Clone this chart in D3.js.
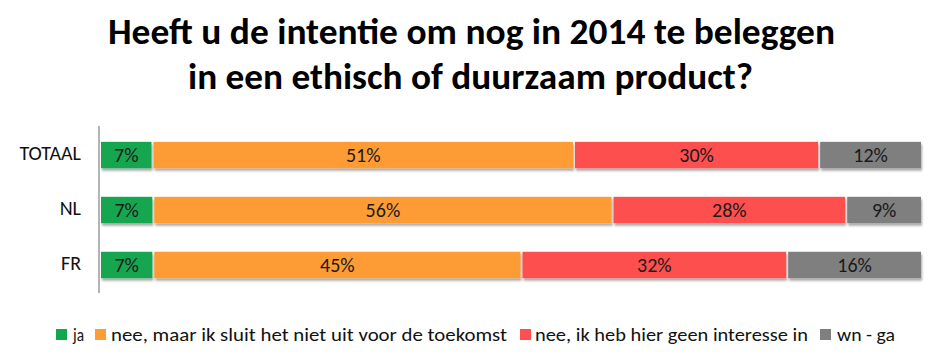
<!DOCTYPE html>
<html><head><meta charset="utf-8">
<script src="https://cdn.jsdelivr.net/npm/d3@7"></script>
<style>
body{margin:0;background:#fff;}
svg{display:block;}
text{font-family:Carlito,"Liberation Sans Narrow","DejaVu Sans Condensed",sans-serif;}
</style></head>
<body><svg id="c" width="945" height="364"></svg>
<script>
const titleLines = ["Heeft u de intentie om nog in 2014 te beleggen","in een ethisch of duurzaam product?"];
const categories = ["TOTAAL","NL","FR"];
const seriesNames = ["ja","nee, maar ik sluit het niet uit voor de toekomst","nee, ik heb hier geen interesse in","wn - ga"];
const seriesColors = ["#12a64f","#fd9b35","#fe5050","#7f7f7f"];
const ja = [6.4, 6.5, 6.5];
const neeMaar = [51.4, 56.0, 44.9];
const neeGeen = [29.9, 28.5, 32.4];
const wnGa = [12.3, 9.0, 16.2];
const labels = [["7%","51%","30%","12%"],["7%","56%","28%","9%"],["7%","45%","32%","16%"]];

const FONT = 'Carlito,"Liberation Sans Narrow","DejaVu Sans Condensed",sans-serif';
const svg = d3.select("#c");
const defs = svg.append("defs");
const f = defs.append("filter").attr("id","sh").attr("x","-5%").attr("y","-20%").attr("width","110%").attr("height","160%");
f.append("feDropShadow").attr("dx",1).attr("dy",2.5).attr("stdDeviation",1.2).attr("flood-color","#000").attr("flood-opacity",0.35);

// title
const title = svg.append("g");
const titleBox = [{x0:108,x1:835,y:44},{x0:188,x1:753,y:89}];
titleLines.forEach((t,i)=>{
  const b = titleBox[i];
  title.append("text").attr("x",b.x0).attr("y",b.y)
    .attr("font-weight","bold").attr("font-size",36).attr("fill","#000")
    .attr("textLength", b.x1-b.x0).attr("lengthAdjust","spacingAndGlyphs").text(t);
});

const x = d3.scaleLinear().domain([0,100]).range([101,921]);
const y = d3.scaleBand().domain(categories).range([127,293]).paddingInner(0.52).paddingOuter(0.27);

const seriesData = [ja, neeMaar, neeGeen, wnGa];
const rows = categories.map((c,i)=>{ const o={cat:c}; seriesNames.forEach((s,j)=>o[s]=seriesData[j][i]); return o;});
const stack = d3.stack().keys(seriesNames)(rows);

const bars = svg.append("g");
stack.forEach((layer,j)=>{
  layer.forEach((d,i)=>{
    const x0 = x(d[0]), x1 = x(d[1]);
    const last = j===seriesNames.length-1;
    bars.append("rect").attr("x",x0).attr("y",y(categories[i]))
      .attr("width", Math.max(0, x1-x0-(last?0:2))).attr("height",y.bandwidth())
      .attr("fill",seriesColors[j]).attr("filter","url(#sh)");
    bars.append("text").attr("x",(x0+x1-(last?0:2))/2).attr("y",y(categories[i])+y.bandwidth()/2+7)
      .attr("text-anchor","middle").attr("font-size",20).attr("fill","#1a1a1a").text(labels[i][j]);
  });
});

// axis
const ax = svg.append("g").attr("transform","translate(99,0)").call(d3.axisLeft(y).tickSize(0).tickPadding(18));
ax.select(".domain").attr("stroke","#8c8c8c").attr("stroke-width",1.3).attr("d","M0,126V293");
ax.selectAll("text").attr("font-size",20).attr("fill","#111").attr("dy",null).attr("y",5).style("font-family",FONT);

// legend
const lg = svg.append("g");
const legSq = [56, 95, 520, 820];
const legText = [[73,84],[111,507],[535,808],[837,895]];
seriesNames.forEach((s,j)=>{
  lg.append("rect").attr("x",legSq[j]).attr("y",329).attr("width",11).attr("height",11).attr("fill",seriesColors[j]);
  lg.append("text").attr("x",legText[j][0]).attr("y",341).attr("font-size",19).attr("fill","#111")
    .attr("textLength",legText[j][1]-legText[j][0]).attr("lengthAdjust","spacingAndGlyphs").text(s);
});
</script></body></html>
